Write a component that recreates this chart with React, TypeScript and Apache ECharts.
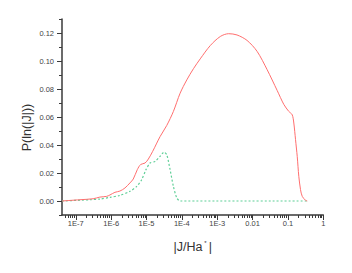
import React, { useEffect, useRef } from "react";
import * as echarts from "echarts";

// |J/Ha*| values and P(ln|J|) for the solid red curve
const redJ = [
  4.08e-8, 1.3e-7, 3.1e-7, 4.8e-7, 7.43e-7, 9.23e-7, 1.28e-6, 1.77e-6, 2.46e-6,
  3.4e-6, 4.23e-6, 5.5e-6, 6.85e-6, 9.08e-6, 1.13e-5, 1.5e-5, 2.42e-5, 3.75e-5,
  5.77e-5, 8.93e-5, 1.38e-4, 2.13e-4, 3.3e-4, 6.35e-4, 1.22e-3, 2.1e-3, 3.63e-3,
  6.98e-3, 1.34e-2, 2.58e-2, 4.95e-2, 7.64e-2, 0.1057, 0.132, 0.1466, 0.164,
  0.183, 0.203, 0.227, 0.254, 0.315, 0.352,
];
const redP = [
  0, 0.0009, 0.0016, 0.0028, 0.0033, 0.0043, 0.0062, 0.0071, 0.0093, 0.0129,
  0.0157, 0.0224, 0.0261, 0.0271, 0.03, 0.0355, 0.046, 0.054, 0.064, 0.077,
  0.0865, 0.0945, 0.1015, 0.111, 0.1175, 0.1195, 0.1186, 0.1147, 0.1069, 0.0938,
  0.079, 0.069, 0.064, 0.0616, 0.0557, 0.0438, 0.0319, 0.0176, 0.0081, 0.0033,
  0.0005, 0,
];

// dotted green curve
const greenJ = [
  4.08e-8, 2.49e-7, 4.8e-7, 9.23e-7, 1.77e-6, 3.4e-6, 5.27e-6, 7.31e-6, 9.68e-6,
  1.26e-5, 1.75e-5, 2.42e-5, 3.14e-5, 3.75e-5, 4.65e-5, 5.77e-5, 7.21e-5,
  8.93e-5, 0.352,
];
const greenP = [
  0, 0.0009, 0.0014, 0.0026, 0.004, 0.0069, 0.0104, 0.0152, 0.0224, 0.0271,
  0.0283, 0.0319, 0.0349, 0.033, 0.0224, 0.0104, 0.0021, 0, 0,
];

const X_MIN = 4.08e-8;
const X_MAX = 1;
const Y_MIN = -0.01;
const Y_MAX = 0.13;
const yMajorTicks = [0, 0.02, 0.04, 0.06, 0.08, 0.1, 0.12];
const xMinorTicks: number[] = [];
for (let e = -8; e < 0; e++) {
  for (let m = 2; m <= 9; m++) {
    const v = m * Math.pow(10, e);
    if (v >= X_MIN && v <= X_MAX) xMinorTicks.push(Math.log10(v));
  }
}

const AXIS_COLOR = "#3a3a3a";
const LABEL_COLOR = "#444";
const FONT = "Liberation Sans, Arial, sans-serif";

const W = 352;
const H = 273;
const GRID = { left: 62, right: 28.7, top: 19, bottom: 58 };

export default function App() {
  const ref = useRef<HTMLDivElement>(null);
  useEffect(() => {
    if (!ref.current) return;
    const chart = echarts.init(ref.current, undefined, { renderer: "svg" });
    const gw = W - GRID.left - GRID.right;
    const gh = H - GRID.top - GRID.bottom;
    chart.setOption({
      animation: false,
      backgroundColor: "#fff",
      grid: GRID,
      xAxis: [
        {
          type: "log",
          logBase: 10,
          min: X_MIN,
          max: X_MAX,
          position: "bottom",
          axisLine: { onZero: false, lineStyle: { color: AXIS_COLOR, width: 1.5 } },
          axisTick: { length: 5, lineStyle: { color: AXIS_COLOR, width: 1 } },
          splitLine: { show: false },
          axisLabel: {
            showMinLabel: false,
            margin: 4,
            fontSize: 7.5,
            color: LABEL_COLOR,
            fontFamily: FONT,
            formatter: (v: number) => {
              const e = Math.round(Math.log10(v));
              if (e <= -3) return "1E" + e;
              return String(Math.pow(10, e));
            },
          },
        },
        {
          // minor ticks (log decades 2..9), drawn on the bottom edge
          type: "value",
          min: Math.log10(X_MIN),
          max: 0,
          position: "top",
          offset: -gh,
          axisLine: { show: false, onZero: false },
          axisLabel: { show: false },
          splitLine: { show: false },
          axisTick: {
            show: true,
            inside: true,
            length: 3,
            customValues: xMinorTicks,
            lineStyle: { color: AXIS_COLOR, width: 1 },
          },
        },
      ],
      yAxis: [
        {
          type: "value",
          min: Y_MIN,
          max: Y_MAX,
          interval: 0.01,
          position: "left",
          axisLine: { show: true, onZero: false, lineStyle: { color: AXIS_COLOR, width: 1.5 } },
          axisTick: { show: true, length: 3, lineStyle: { color: AXIS_COLOR, width: 1 } },
          splitLine: { show: false },
          axisLabel: {
            fontSize: 7.5,
            color: LABEL_COLOR,
            fontFamily: FONT,
            margin: 8,
            formatter: (v: number) => {
              const r = Math.round(v * 100);
              if (r < 0 || r % 2 !== 0) return "";
              return (r / 100).toFixed(2);
            },
          },
        },
        {
          // longer major ticks, drawn on the left edge
          type: "value",
          min: Y_MIN,
          max: Y_MAX,
          position: "right",
          offset: -gw,
          axisLine: { show: false, onZero: false },
          axisLabel: { show: false },
          splitLine: { show: false },
          axisTick: {
            show: true,
            inside: true,
            length: 5,
            customValues: yMajorTicks,
            lineStyle: { color: AXIS_COLOR, width: 1 },
          },
        },
      ],
      series: [
        {
          type: "line",
          xAxisIndex: 0,
          yAxisIndex: 0,
          data: redJ.map((j, i) => [j, redP[i]]),
          showSymbol: false,
          smooth: 0.3,
          lineStyle: { color: "#ff6f6f", width: 1 },
          z: 3,
        },
        {
          type: "line",
          xAxisIndex: 0,
          yAxisIndex: 0,
          data: greenJ.map((j, i) => [j, greenP[i]]),
          showSymbol: false,
          smooth: 0.25,
          lineStyle: { color: "#5fcf97", width: 1.2, type: [2, 2] },
          z: 2,
        },
      ],
      graphic: [
        {
          type: "text",
          x: 27,
          y: 127.5,
          rotation: Math.PI / 2,
          style: {
            text: "P(ln(|J|))",
            font: "12.5px " + FONT,
            fill: "#333",
            align: "center",
            verticalAlign: "middle",
          },
        },
        {
          type: "text",
          x: 192.7,
          y: 246.7,
          style: {
            text: "|J/Ha{s|*}|",
            font: "12.5px " + FONT,
            fill: "#333",
            align: "center",
            verticalAlign: "middle",
            rich: {
              s: { fontSize: 6, verticalAlign: "top", padding: [0, 2, 6, 2], fill: "#333" },
            },
          },
        },
      ],
    });
    return () => chart.dispose();
  }, []);
  return (
    <div
      ref={ref}
      style={{ position: "fixed", left: 0, top: 0, width: W, height: H }}
    />
  );
}
